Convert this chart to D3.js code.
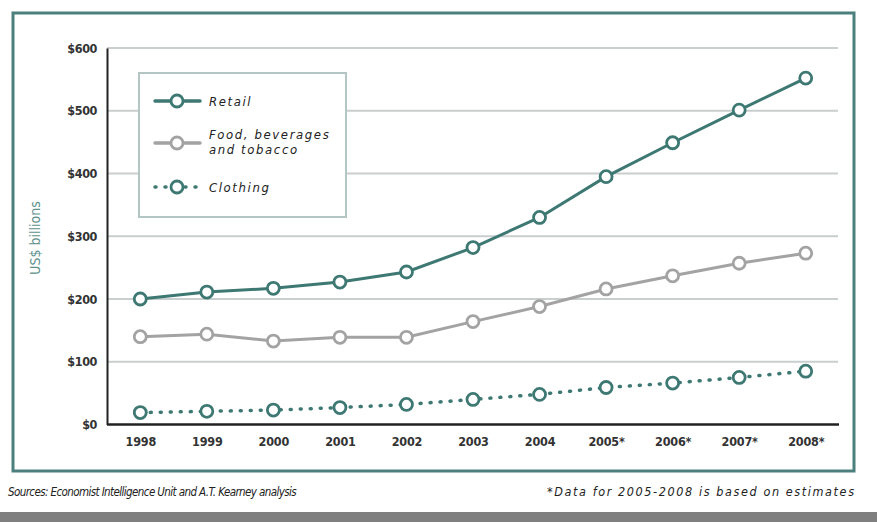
<!DOCTYPE html>
<html>
<head>
<meta charset="utf-8">
<script src="https://cdn.jsdelivr.net/npm/d3@7"></script>
<style>
  body { margin: 0; background: #fff; }
  svg { display: block; }
  text { font-family: "DejaVu Sans Condensed", "Liberation Sans", sans-serif; }
</style>
</head>
<body>
<script>
const years = ["1998", "1999", "2000", "2001", "2002", "2003", "2004", "2005*", "2006*", "2007*", "2008*"];
const retail = [200, 211, 217, 227, 243, 282, 330, 395, 449, 501, 552];
const food = [140, 144, 133, 139, 139, 164, 188, 216, 237, 257, 273];
const clothing = [19, 21, 23, 27, 32, 40, 48, 59, 66, 75, 85];
const yTicks = [0, 100, 200, 300, 400, 500, 600];

const width = 877, height = 522;
const teal = "#3d7873", gray = "#a3a3a3";
const dotted = "1,9";

const svg = d3.select("body").append("svg")
  .attr("width", width).attr("height", height);

// outer frame
svg.append("rect")
  .attr("x", 13).attr("y", 13).attr("width", 841).attr("height", 458)
  .attr("fill", "none").attr("stroke", "#4b807c").attr("stroke-width", 3);

// bottom band
svg.append("rect")
  .attr("x", 0).attr("y", 512).attr("width", width).attr("height", 10)
  .attr("fill", "#7f7f7f");

const x = d3.scalePoint().domain(years).range([107, 839]).padding(0.5);
const y = d3.scaleLinear().domain([0, 600]).range([424.5, 48]);

// gridlines
svg.append("g")
  .selectAll("line")
  .data(yTicks.filter(d => d > 0))
  .join("line")
  .attr("x1", 107).attr("x2", 838)
  .attr("y1", d => y(d)).attr("y2", d => y(d))
  .attr("stroke", "#c9cece").attr("stroke-width", 2);

// y axis
const yAxis = svg.append("g")
  .attr("transform", "translate(107,0)")
  .call(d3.axisLeft(y).tickValues(yTicks).tickSize(0).tickPadding(10).tickFormat(d => "$" + d));
yAxis.select(".domain").attr("stroke", "#222").attr("stroke-width", 2);
yAxis.selectAll("text").attr("font-size", 12.5).attr("font-weight", "bold").attr("fill", "#333").attr("letter-spacing", -0.4);

// x axis
const xAxis = svg.append("g")
  .attr("transform", "translate(0,424.5)")
  .call(d3.axisBottom(x).tickSize(0).tickPadding(13));
xAxis.select(".domain").attr("stroke", "#222").attr("stroke-width", 2.5).attr("d", "M107,0H839");
xAxis.selectAll("text").attr("font-size", 12.5).attr("font-weight", "bold").attr("fill", "#333").attr("letter-spacing", -0.2);

// y title
svg.append("text")
  .attr("transform", "translate(40,238) rotate(-90)")
  .attr("text-anchor", "middle")
  .attr("font-size", 14).attr("fill", "#5e918d")
  .text("US$ billions");

// legend box
svg.append("rect")
  .attr("x", 139).attr("y", 73).attr("width", 207).attr("height", 144)
  .attr("fill", "#fff").attr("stroke", "#b3c6c4").attr("stroke-width", 2);

const series = [
  { name: "Retail", values: retail, color: teal, dash: null },
  { name: "Food", values: food, color: gray, dash: null },
  { name: "Clothing", values: clothing, color: teal, dash: dotted }
];

const line = d3.line().x((d, i) => x(years[i])).y(d => y(d));

series.forEach(s => {
  svg.append("path")
    .datum(s.values)
    .attr("d", line)
    .attr("fill", "none")
    .attr("stroke", s.color)
    .attr("stroke-width", s.dash ? 3.5 : 3)
    .attr("stroke-linecap", "round")
    .attr("stroke-dasharray", s.dash);
  svg.append("g")
    .selectAll("circle")
    .data(s.values)
    .join("circle")
    .attr("cx", (d, i) => x(years[i]))
    .attr("cy", d => y(d))
    .attr("r", 6)
    .attr("fill", "#fff")
    .attr("stroke", s.color)
    .attr("stroke-width", 2.8);
});

// legend entries
const legendItems = [
  { lines: ["Retail"], color: teal, dash: null, y: 101 },
  { lines: ["Food, beverages", "and tobacco"], color: gray, dash: null, y: 143 },
  { lines: ["Clothing"], color: teal, dash: dotted, y: 187 }
];
legendItems.forEach(it => {
  svg.append("line")
    .attr("x1", 155).attr("x2", 200).attr("y1", it.y).attr("y2", it.y)
    .attr("stroke", it.color).attr("stroke-width", 3.5)
    .attr("stroke-linecap", "round")
    .attr("stroke-dasharray", it.dash);
  svg.append("circle")
    .attr("cx", 177).attr("cy", it.y).attr("r", 6)
    .attr("fill", "#fff").attr("stroke", it.color).attr("stroke-width", 2.8);
  const t = svg.append("text")
    .attr("x", 209)
    .attr("y", it.lines.length > 1 ? it.y - 4 : it.y + 5)
    .attr("font-size", 13).attr("font-style", "italic").attr("fill", "#222")
    .attr("letter-spacing", 1.6);
  it.lines.forEach((l, i) => {
    t.append("tspan").attr("x", 209).attr("dy", i === 0 ? 0 : 15).text(l);
  });
});

// footnotes
svg.append("text")
  .attr("x", 8).attr("y", 496)
  .attr("font-size", 11.5).attr("font-style", "italic").attr("fill", "#222")
  .attr("letter-spacing", -0.6)
  .text("Sources: Economist Intelligence Unit and A.T. Kearney analysis");
svg.append("text")
  .attr("x", 547).attr("y", 496)
  .attr("font-size", 12.5).attr("font-style", "italic").attr("fill", "#222")
  .attr("textLength", 307).attr("lengthAdjust", "spacing")
  .text("*Data for 2005-2008 is based on estimates");
</script>
</body>
</html>
